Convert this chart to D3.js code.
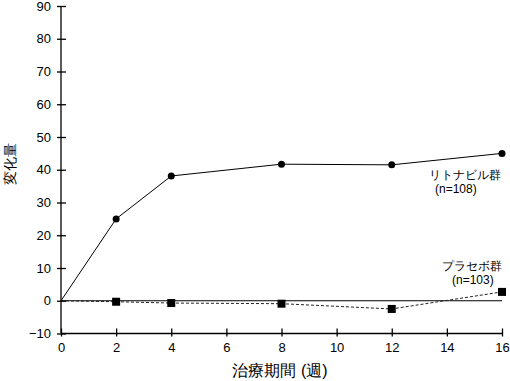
<!DOCTYPE html>
<html><head><meta charset="utf-8">
<script src="https://cdn.jsdelivr.net/npm/d3@7"></script>
<style>body{margin:0;background:#fff}svg{display:block}text{font-family:"Liberation Sans",Arial,sans-serif}</style>
</head><body><svg id="c" width="510" height="381"></svg>
<script>
const weeks = [0, 2, 4, 8, 12, 16];
const ritonavir = [0, 25.0, 38.1, 41.7, 41.5, 45.0];
const placebo = [0, -0.3, -0.7, -0.9, -2.5, 2.7];
const xTicks = [0, 2, 4, 6, 8, 10, 12, 14, 16];
const yTicks = [-10, 0, 10, 20, 30, 40, 50, 60, 70, 80, 90];
const labels = {rit: "リトナビル群", ritN: "(n=108)", pla: "プラセボ群", plaN: "(n=103)", x: "治療期間 (週)", y: "変化量"};

const svg = d3.select("#c");
const x = d3.scaleLinear().domain([0, 16]).range([61, 502]);
const y = d3.scaleLinear().domain([-10, 90]).range([333.5, 6]);
const jp = '"Noto Sans CJK JP",sans-serif';
const lat = '"Liberation Sans",Arial,sans-serif';

// axes
const yAx = svg.append("g").attr("transform", "translate(61,0)")
  .call(d3.axisLeft(y).tickValues(yTicks).tickSize(4).tickSizeOuter(0).tickPadding(6));
yAx.select(".domain").attr("d", `M0,${y(-10)}V${y(90)}`);
yAx.selectAll(".tick line").attr("x1", -4).attr("x2", 5);
const xAx = svg.append("g").attr("transform", `translate(0,${y(-10)})`)
  .call(d3.axisBottom(x).tickValues(xTicks).tickSize(3).tickSizeOuter(0).tickPadding(6));
xAx.select(".domain").attr("d", `M${x(0)},0H${x(16)}`);
xAx.selectAll(".tick line").attr("y1", -5).attr("y2", 3);
svg.selectAll(".tick text").attr("font-size", 13).attr("font-family", lat).attr("fill", "#000");
svg.selectAll(".domain, .tick line").attr("stroke", "#000").attr("stroke-width", 1.3);

// zero line
svg.append("line").attr("x1", x(0)).attr("x2", x(16)).attr("y1", y(0)).attr("y2", y(0))
  .attr("stroke", "#000").attr("stroke-width", 1.2);

const line = d3.line().x((d, i) => x(weeks[i])).y(d => y(d));
svg.append("path").attr("d", line(placebo)).attr("fill", "none").attr("stroke", "#222")
  .attr("stroke-width", 1).attr("stroke-dasharray", "3,2");
svg.append("path").attr("d", line(ritonavir)).attr("fill", "none").attr("stroke", "#000").attr("stroke-width", 1);

svg.selectAll("circle.r").data(ritonavir.slice(1)).enter().append("circle")
  .attr("cx", (d, i) => x(weeks[i + 1])).attr("cy", d => y(d)).attr("r", 3.5).attr("fill", "#000");
svg.selectAll("rect.p").data(placebo.slice(1)).enter().append("rect")
  .attr("x", (d, i) => x(weeks[i + 1]) - 4).attr("y", d => y(d) - 4).attr("width", 8).attr("height", 8).attr("fill", "#000");

// labels
svg.append("text").attr("x", 501).attr("y", 179).attr("text-anchor", "end").attr("font-size", 11.5).attr("font-family", jp).text(labels.rit);
svg.append("text").attr("x", 435).attr("y", 193).attr("font-size", 12).attr("font-family", lat).text(labels.ritN);
svg.append("text").attr("x", 502).attr("y", 270).attr("text-anchor", "end").attr("font-size", 12).attr("font-family", jp).text(labels.pla);
svg.append("text").attr("x", 452).attr("y", 284).attr("font-size", 12).attr("font-family", lat).text(labels.plaN);

svg.append("text").attr("x", 280).attr("y", 376).attr("text-anchor", "middle").attr("font-size", 16).attr("font-family", jp).text(labels.x);
svg.append("text").attr("transform", "translate(15,164) rotate(-90)").attr("text-anchor", "middle").attr("font-size", 14).attr("font-family", jp).text(labels.y);
</script></body></html>
